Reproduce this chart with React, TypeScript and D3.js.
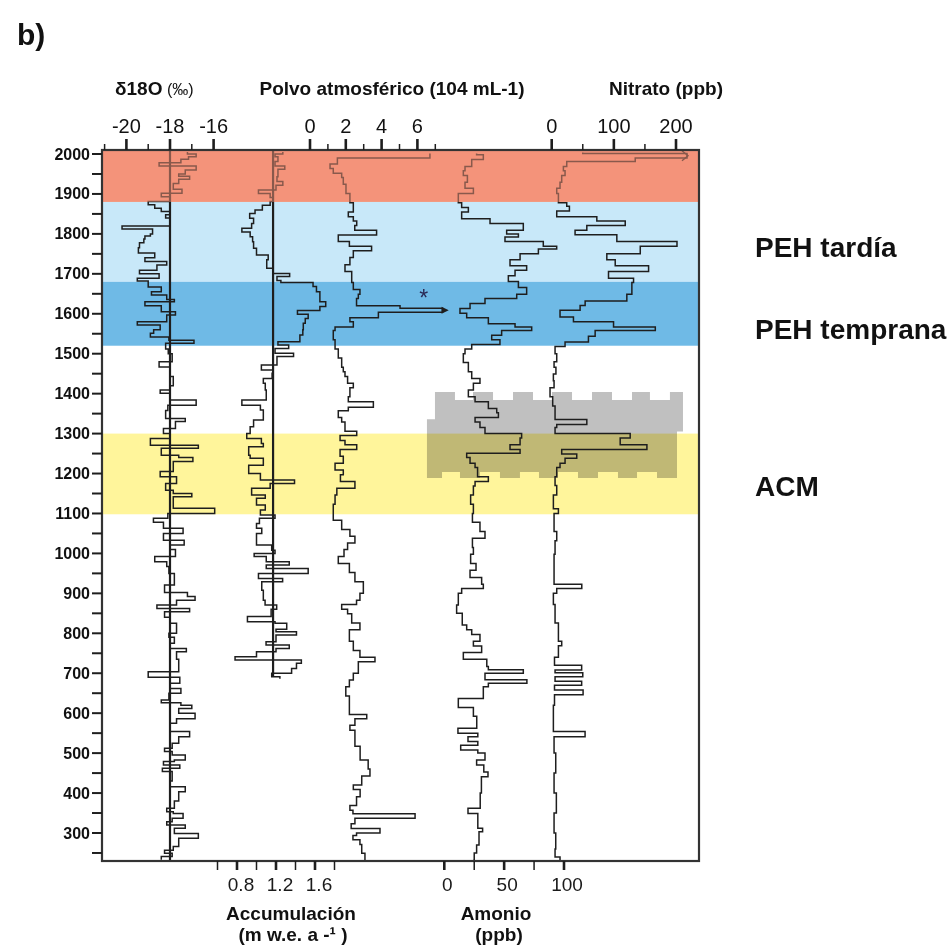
import React from 'react';
import * as d3 from 'd3';

// Each profile is a list of [year, value] steps: the value holds from that year
// down to the next listed year. The last entry closes the record.
type Step = [number, number];

const d18O: Step[] = [
  [2005, -17.2], [2000, -16.8], [1993, -17.15], [1987, -17.5], [1978, -18.5], [1970, -16.8],
  [1960, -17.3], [1950, -17.6], [1944, -17.1], [1937, -17.6], [1926, -17.85], [1912, -17.45],
  [1902, -18.4], [1893, -18.0], [1881, -19.0], [1873, -18.7], [1864, -18.4], [1856, -18.0],
  [1848, -18.2], [1840, -18.0], [1820, -20.2], [1812, -18.8], [1800, -18.9], [1795, -19.15],
  [1787, -19.2], [1778, -19.4], [1765, -19.45], [1752, -18.7], [1740, -19.15], [1731, -18.15],
  [1722, -18.6], [1709, -19.4], [1700, -18.5], [1689, -19.5], [1682, -19.0], [1667, -18.4],
  [1655, -18.85], [1647, -18.15], [1636, -17.8], [1630, -19.15], [1620, -18.4], [1605, -17.75],
  [1597, -18.15], [1580, -19.5], [1572, -18.45], [1560, -18.75], [1551, -18.9], [1542, -18.05],
  [1534, -16.9], [1526, -18.2], [1512, -18.08], [1500, -17.9], [1480, -18.5], [1467, -18.0],
  [1443, -17.85], [1420, -18.0], [1409, -18.45], [1401, -18.0], [1384, -16.8], [1371, -18.1],
  [1358, -18.2], [1338, -17.3], [1330, -17.75], [1313, -18.3], [1300, -18.0], [1288, -18.9],
  [1271, -16.7], [1263, -18.4], [1246, -17.6], [1240, -16.95], [1230, -17.85], [1205, -18.45],
  [1192, -17.7], [1175, -18.2], [1158, -17.85], [1150, -17.0], [1142, -17.85], [1113, -15.95],
  [1100, -18.1], [1088, -18.76], [1078, -18.3], [1063, -17.4], [1050, -18.3], [1033, -17.35],
  [1021, -18.0], [1010, -17.75], [992, -18.7], [979, -18.15], [967, -18.05], [950, -17.8],
  [921, -18.25], [902, -17.2], [892, -16.85], [883, -17.7], [871, -18.6], [862, -17.1],
  [854, -18.25], [840, -18.0], [825, -17.7], [800, -18.05], [790, -17.8], [775, -18.0],
  [762, -17.25], [754, -17.7], [735, -17.6], [704, -19.0], [690, -17.55], [675, -18.0],
  [662, -17.5], [650, -18.05], [633, -18.4], [626, -17.5], [620, -17.0], [612, -17.6],
  [600, -16.85], [586, -17.7], [575, -18.0], [554, -17.1], [541, -17.6], [525, -17.9],
  [512, -18.25], [504, -17.9], [495, -17.3], [483, -17.8], [479, -18.3], [470, -17.55],
  [462, -18.35], [454, -17.9], [430, -18.0], [416, -17.3], [403, -17.6], [380, -17.8],
  [362, -18.15], [353, -17.85], [349, -17.4], [337, -17.9], [328, -18.15], [320, -17.3],
  [312, -17.8], [299, -16.7], [287, -17.6], [266, -17.85], [257, -18.25], [249, -17.9],
  [241, -18.4], [233, -18.4],
];

const accumulation: Step[] = [
  [2005, 1.27], [2000, 1.19], [1993, 1.22], [1981, 1.19], [1970, 1.29], [1962, 1.22],
  [1943, 1.21], [1931, 1.27], [1922, 1.2], [1910, 1.02], [1901, 1.14], [1891, 1.17],
  [1881, 1.14], [1872, 1.06], [1860, 0.985], [1851, 0.93], [1839, 0.97], [1826, 0.95],
  [1814, 0.85], [1805, 0.935], [1793, 0.96], [1780, 0.97], [1764, 1.0], [1747, 1.12],
  [1735, 1.105], [1714, 1.17], [1701, 1.34], [1693, 1.21], [1683, 1.25], [1678, 1.58],
  [1668, 1.615], [1655, 1.65], [1630, 1.71], [1618, 1.65], [1608, 1.42], [1599, 1.53],
  [1588, 1.5], [1576, 1.48], [1560, 1.475], [1547, 1.445], [1530, 1.22], [1522, 1.33],
  [1513, 1.19], [1501, 1.38], [1493, 1.21], [1472, 1.05], [1459, 1.17], [1451, 1.16],
  [1438, 1.07], [1426, 1.09], [1409, 1.1], [1384, 0.85], [1371, 1.04], [1359, 1.07],
  [1334, 0.97], [1317, 0.935], [1300, 0.9], [1288, 1.05], [1275, 1.07], [1267, 0.92],
  [1246, 0.935], [1238, 1.07], [1221, 0.92], [1200, 1.04], [1184, 1.39], [1175, 1.14],
  [1163, 0.95], [1146, 1.09], [1138, 1.0], [1121, 1.09], [1109, 1.04], [1096, 1.19],
  [1088, 1.03], [1075, 1.0], [1063, 1.054], [1050, 1.0], [1033, 1.0], [1021, 1.156],
  [1008, 1.19], [1000, 0.976], [992, 1.1], [979, 1.336], [971, 1.1], [962, 1.53],
  [950, 1.02], [937, 1.268], [929, 1.054], [908, 1.07], [883, 1.088], [871, 1.207],
  [860, 1.15], [842, 0.907], [829, 1.19], [825, 1.31], [810, 1.2], [804, 1.41],
  [796, 1.2], [779, 1.098], [771, 1.336], [762, 1.2], [754, 1.0], [741, 0.78],
  [733, 1.46], [725, 1.41], [712, 1.36], [700, 1.156], [691, 1.24], [686, 1.24],
];

const dust: Step[] = [
  [2001, 6.7], [1990, 1.53], [1975, 1.12], [1964, 1.3], [1952, 1.77], [1941, 1.86],
  [1924, 2.01], [1901, 2.23], [1878, 2.42], [1855, 2.14], [1843, 2.42], [1832, 2.61],
  [1821, 2.5], [1809, 3.72], [1797, 1.58], [1781, 2.2], [1769, 3.44], [1758, 2.42],
  [1741, 2.23], [1723, 1.955], [1706, 2.33], [1678, 2.42], [1661, 2.79], [1649, 2.7],
  [1638, 2.6], [1620, 5.03], [1614, 7.4], [1604, 3.82], [1590, 2.23], [1580, 2.42],
  [1567, 1.4], [1558, 1.3], [1535, 1.4], [1512, 1.58], [1489, 1.77], [1466, 1.86],
  [1455, 1.955], [1443, 2.1], [1426, 2.42], [1415, 2.23], [1392, 2.14], [1380, 3.54],
  [1366, 2.14], [1357, 1.58], [1340, 1.77], [1329, 1.955], [1306, 2.61], [1295, 1.68],
  [1283, 1.955], [1272, 2.61], [1260, 1.68], [1243, 1.86], [1226, 1.4], [1209, 1.86],
  [1197, 1.7], [1180, 2.51], [1163, 1.5], [1146, 1.4], [1123, 1.3], [1106, 1.3],
  [1083, 1.77], [1060, 2.23], [1043, 2.51], [1026, 2.1], [1010, 1.9], [992, 1.58],
  [975, 2.2], [952, 2.51], [929, 2.98], [900, 2.79], [883, 2.6], [872, 1.77],
  [860, 2.1], [849, 2.33], [826, 2.79], [809, 2.2], [780, 2.42], [757, 2.79],
  [740, 3.63], [729, 2.7], [700, 2.42], [683, 2.2], [666, 2.0], [643, 2.2],
  [626, 2.2], [597, 3.17], [586, 2.51], [570, 2.23], [557, 2.51], [534, 2.51],
  [517, 2.8], [483, 3.25], [460, 3.35], [443, 2.89], [420, 2.42], [409, 2.8],
  [391, 2.6], [369, 2.23], [357, 2.4], [348, 5.87], [337, 2.51], [323, 2.3],
  [311, 3.91], [300, 2.6], [294, 2.4], [283, 2.79], [271, 2.89], [249, 3.07],
  [231, 3.07],
];

const ammonium: Step[] = [
  [2001, 27.0], [1998, 32.6], [1986, 22.9], [1969, 17.3], [1958, 15.9], [1946, 19.3], [1929, 17.3],
  [1914, 24.3], [1901, 11.7], [1878, 14.5], [1866, 20.1], [1855, 14.5], [1838, 38.2],
  [1826, 66.0], [1809, 52.1], [1800, 61.9], [1792, 50.7], [1781, 82.7], [1769, 93.9],
  [1762, 78.6], [1750, 63.3], [1735, 54.9], [1720, 68.8], [1709, 59.1], [1695, 53.5],
  [1681, 61.9], [1666, 68.8], [1649, 60.5], [1638, 34.0], [1626, 21.5], [1613, 13.1],
  [1601, 18.7], [1590, 36.8], [1575, 59.1], [1567, 73.0], [1558, 47.9], [1546, 39.6],
  [1535, 46.5], [1523, 22.9], [1512, 17.3], [1500, 15.9], [1478, 20.1], [1455, 22.9],
  [1438, 29.8], [1426, 24.3], [1409, 20.1], [1392, 25.7], [1380, 36.8], [1363, 43.8],
  [1352, 45.2], [1340, 25.7], [1329, 29.8], [1315, 34.0], [1300, 64.6], [1289, 63.3],
  [1272, 54.9], [1260, 63.3], [1251, 18.7], [1240, 21.5], [1226, 25.7], [1215, 27.8],
  [1192, 36.8], [1180, 25.7], [1169, 24.3], [1146, 22.0], [1123, 24.3], [1100, 23.5],
  [1078, 29.8], [1055, 34.0], [1038, 23.5], [1015, 24.3], [998, 22.0], [975, 26.5],
  [958, 21.5], [940, 31.2], [923, 32.6], [912, 14.5], [900, 11.7], [871, 10.3],
  [850, 15.0], [821, 18.7], [809, 22.9], [797, 29.8], [780, 24.3], [768, 31.2],
  [752, 15.9], [735, 35.5], [717, 36.8], [709, 66.0], [700, 34.0], [684, 69.0],
  [675, 36.8], [666, 32.6], [637, 11.7], [614, 24.3], [592, 27.1], [572, 27.1],
  [562, 11.4], [550, 28.0], [541, 19.8], [529, 28.0], [520, 13.7], [508, 28.0],
  [500, 34.0], [483, 27.0], [470, 33.0], [453, 36.5], [441, 31.0], [400, 30.0],
  [362, 19.8], [349, 28.0], [312, 32.0], [303, 29.0], [270, 27.0], [250, 25.0],
  [231, 24.0],
];

const nitrate: Step[] = [
  [2004, 50.0], [2001, 217.7], [1990, 134.4], [1981, 24.2], [1969, 18.8], [1958, 21.5], [1946, 16.1],
  [1929, 13.4], [1914, 8.1], [1901, 10.8], [1878, 24.2], [1869, 28.5], [1857, 8.1],
  [1843, 72.6], [1832, 118.3], [1821, 56.5], [1809, 37.6], [1798, 104.8], [1781, 201.6],
  [1769, 142.5], [1750, 88.7], [1735, 102.2], [1720, 155.9], [1706, 91.4], [1689, 131.7],
  [1678, 129.0], [1649, 120.9], [1632, 53.8], [1621, 45.7], [1609, 13.4], [1592, 35.0],
  [1580, 99.5], [1567, 166.7], [1558, 69.9], [1544, 59.1], [1529, 21.5], [1518, 5.4],
  [1500, 8.1], [1480, 3.8], [1466, 6.8], [1449, 2.7], [1432, 3.8], [1415, -2.7],
  [1392, 1.6], [1369, 5.4], [1335, 56.5], [1323, 8.1], [1315, 5.4], [1300, 126.3],
  [1289, 110.2], [1272, 153.2], [1260, 16.1], [1249, 40.3], [1238, 21.5], [1226, 13.4],
  [1215, 8.1], [1192, 5.4], [1170, 8.1], [1146, 2.7], [1112, 10.8], [1100, 3.8],
  [1055, 8.1], [1032, 5.4], [998, 3.8], [923, 48.4], [912, 8.1], [900, 2.7],
  [872, 5.4], [826, 10.8], [780, 16.1], [769, 10.8], [740, 4.5], [720, 48.2],
  [708, 5.4], [701, 50.0], [691, 5.4], [680, 48.2], [670, 4.5], [658, 50.5],
  [646, 4.5], [620, 2.7], [554, 53.7], [541, 3.8], [500, 6.5], [450, 3.8],
  [400, 7.5], [350, 3.8], [300, 6.5], [260, 5.4], [240, 13.4], [231, 13.4],
];

// Climate periods shaded across the panel (years)
const periods = [
  { name: 'recent', from: 2010, to: 1880, color: '#F4937A' },
  { name: 'PEH tardía', from: 1880, to: 1680, color: '#C8E8F9' },
  { name: 'PEH temprana', from: 1680, to: 1520, color: '#6FBAE6' },
  { name: 'ACM', from: 1300, to: 1098, color: '#FFF59B' },
];

const periodLabels = [
  { text: 'PEH tardía', year: 1768 },
  { text: 'PEH temprana', year: 1563 },
  { text: 'ACM', year: 1168 },
];

// Dated window (ammonium ppb span, years) with its notched edges
const windowTopTeeth: [number, number][] = [
  [-7.8, 8.9], [24.0, 40.7], [57.4, 74.1], [90.0, 106.7], [123.4, 140.1], [156.8, 171.8], [188.5, 199.4],
];
const windowBottomTeeth: [number, number][] = [
  [-14.5, -1.9], [13.1, 29.8], [46.5, 63.2], [79.1, 95.0], [111.7, 128.4], [145.1, 161.0], [177.7, 194.4],
];
const windowYears = { top: 1404, topGap: 1384, leftStep: 1336, rightStep: 1305, bottomGap: 1204, bottom: 1189 };

const yearLabels = [2000, 1900, 1800, 1700, 1600, 1500, 1400, 1300, 1200, 1100, 1000, 900, 800, 700, 600, 500, 400, 300];
const yearTicks = d3.range(250, 2001, 50);
const d18OTicks = [-21, -20, -19, -18, -17, -16];
const d18OLabels = [-20, -18, -16];
const dustTicks = [0, 1, 2, 3, 4, 5, 6, 7];
const dustLabels = [0, 2, 4, 6];
const nitrateTicks = [0, 50, 100, 150, 200];
const nitrateLabels = [0, 100, 200];
const accTicks = [0.6, 0.8, 1.0, 1.2, 1.4, 1.6, 1.8];
const accLabels = [0.8, 1.2, 1.6];
const ammTicks = [0, 25, 50, 75, 100];
const ammLabels = [0, 50, 100];

const d18OMean = -18;
const accMean = 1.17;

const FONT = '"Liberation Sans", Arial, Helvetica, sans-serif';
const INK = '#1e1e1e';

const frame = { left: 102, right: 699, top: 150, bottom: 861 };

const y = d3.scaleLinear().domain([2000, 300]).range([154, 833]);
const xD18O = d3.scaleLinear().domain([-18, -16]).range([170, 213.6]);
const xAcc = d3.scaleLinear().domain([0.8, 1.6]).range([237, 315]);
const xDust = d3.scaleLinear().domain([0, 6]).range([310, 417.4]);
const xAmm = d3.scaleLinear().domain([0, 100]).range([444.3, 564]);
const xNit = d3.scaleLinear().domain([0, 200]).range([551.7, 676]);

function stepPath(data: Step[], x: d3.ScaleLinear<number, number>) {
  return d3
    .line<Step>()
    .x((d) => x(d[1]))
    .y((d) => y(d[0]))
    .curve(d3.curveStepBefore)(data) as string;
}

function windowPath() {
  const xs = xAmm;
  const pts: [number, number][] = [];
  windowTopTeeth.forEach(([a, b], i) => {
    if (i > 0) pts.push([a, windowYears.topGap]);
    pts.push([a, windowYears.top]);
    pts.push([b, windowYears.top]);
    if (i < windowTopTeeth.length - 1) pts.push([b, windowYears.topGap]);
  });
  const last = windowTopTeeth[windowTopTeeth.length - 1][1];
  const lastBottom = windowBottomTeeth[windowBottomTeeth.length - 1][1];
  pts.push([last, windowYears.rightStep]);
  pts.push([lastBottom, windowYears.rightStep]);
  [...windowBottomTeeth].reverse().forEach(([a, b], i, arr) => {
    if (i > 0) pts.push([b, windowYears.bottomGap]);
    pts.push([b, windowYears.bottom]);
    pts.push([a, windowYears.bottom]);
    if (i < arr.length - 1) pts.push([a, windowYears.bottomGap]);
  });
  pts.push([windowBottomTeeth[0][0], windowYears.leftStep]);
  pts.push([windowTopTeeth[0][0], windowYears.leftStep]);
  return 'M' + pts.map(([v, yr]) => `${xs(v)},${y(yr)}`).join('L') + 'Z';
}

const series: { key: string; data: Step[]; x: d3.ScaleLinear<number, number> }[] = [
  { key: 'd18O', data: d18O, x: xD18O },
  { key: 'acc', data: accumulation, x: xAcc },
  { key: 'dust', data: dust, x: xDust },
  { key: 'amm', data: ammonium, x: xAmm },
  { key: 'nit', data: nitrate, x: xNit },
];

function TopAxis({ scale, ticks, labels }: { scale: d3.ScaleLinear<number, number>; ticks: number[]; labels: number[] }) {
  return (
    <g>
      {ticks.map((t) => {
        const major = labels.includes(t);
        return (
          <line key={t} x1={scale(t)} x2={scale(t)} y1={frame.top} y2={frame.top - (major ? 11 : 6)} stroke={INK} strokeWidth={major ? 2.6 : 1.5} />
        );
      })}
      {labels.map((t) => (
        <text key={'l' + t} x={scale(t)} y={133} textAnchor="middle" fontSize={20} fontFamily={FONT} fill="#111">
          {String(t)}
        </text>
      ))}
    </g>
  );
}

function BottomAxis({ scale, ticks, labels, fmt, shift }: { scale: d3.ScaleLinear<number, number>; ticks: number[]; labels: number[]; fmt: (v: number) => string; shift: number }) {
  return (
    <g>
      {ticks.map((t) => {
        const major = labels.some((l) => Math.abs(l - t) < 1e-6);
        return (
          <line key={t} x1={scale(t)} x2={scale(t)} y1={frame.bottom} y2={frame.bottom + 9} stroke={INK} strokeWidth={major ? 2.6 : 1.5} />
        );
      })}
      {labels.map((t) => (
        <text key={'l' + t} x={scale(t) + shift} y={891} textAnchor="middle" fontSize={19} fontFamily={FONT} fill="#1a1a1a">
          {fmt(t)}
        </text>
      ))}
    </g>
  );
}

export default function App() {
  const salmon = periods[0];
  const arrowYear = 1609;
  const arrowTip = xDust(7.75);
  const arrowBase = xDust(7.35);
  const nitTipX = xNit(nitrate[1][1]);
  const nitTipY = y((nitrate[1][0] + nitrate[2][0]) / 2);
  return (
    <svg width={950} height={950} viewBox="0 0 950 950" style={{ display: 'block', position: 'absolute', left: 0, top: 0, background: '#fff' }}>
      <rect x={0} y={0} width={950} height={950} fill="#fff" />

      {/* period bands */}
      {periods.map((p) => (
        <rect key={p.name} x={frame.left} width={frame.right - frame.left} y={Math.max(frame.top, y(p.from))} height={y(p.to) - Math.max(frame.top, y(p.from))} fill={p.color} />
      ))}

      {/* dated window, blended over the bands */}
      <path d={windowPath()} fill="#C0C0C0" style={{ mixBlendMode: 'multiply' }} />

      {/* long-term means */}
      <line x1={xD18O(d18OMean)} x2={xD18O(d18OMean)} y1={frame.top} y2={frame.bottom} stroke={INK} strokeWidth={2.2} />
      <line x1={xAcc(accMean)} x2={xAcc(accMean)} y1={frame.top} y2={y(691)} stroke={INK} strokeWidth={2.2} />

      {/* step profiles */}
      {series.map((s) => (
        <path key={s.key} d={stepPath(s.data, s.x)} fill="none" stroke={INK} strokeWidth={1.5} strokeLinejoin="miter" />
      ))}

      {/* off-scale peaks */}
      <polygon points={`${arrowBase},${y(arrowYear) - 3.5} ${arrowTip},${y(arrowYear)} ${arrowBase},${y(arrowYear) + 3.5}`} fill={INK} />
      <polyline points={`${nitTipX - 5},${nitTipY - 5} ${nitTipX + 1},${nitTipY} ${nitTipX - 5},${nitTipY + 5}`} fill="none" stroke={INK} strokeWidth={1.4} />
      <text x={xDust(6.35)} y={y(1609) - 4} textAnchor="middle" fontSize={23} fontFamily={FONT} fill="#2a2a55">*</text>

      {/* recent period tint laid over the profiles */}
      <rect x={frame.left} width={frame.right - frame.left} y={frame.top} height={y(salmon.to) - frame.top} fill={salmon.color} opacity={0.5} />

      {/* frame */}
      <rect x={frame.left} y={frame.top} width={frame.right - frame.left} height={frame.bottom - frame.top} fill="none" stroke="#333" strokeWidth={2.2} />

      {/* left year axis */}
      {yearTicks.map((t) => (
        <line key={t} x1={frame.left - 10} x2={frame.left} y1={y(t)} y2={y(t)} stroke={INK} strokeWidth={2} />
      ))}
      {yearLabels.map((t) => (
        <text key={'y' + t} x={90} y={y(t) + 5.5} textAnchor="end" fontSize={16} fontWeight="bold" fontFamily={FONT} fill="#111">
          {t}
        </text>
      ))}

      {/* top axes */}
      <TopAxis scale={xD18O} ticks={d18OTicks} labels={d18OLabels} />
      <TopAxis scale={xDust} ticks={dustTicks} labels={dustLabels} />
      <TopAxis scale={xNit} ticks={nitrateTicks} labels={nitrateLabels} />

      {/* bottom axes */}
      <BottomAxis scale={xAcc} ticks={accTicks} labels={accLabels} fmt={(v) => v.toFixed(1)} shift={4} />
      <BottomAxis scale={xAmm} ticks={ammTicks} labels={ammLabels} fmt={(v) => String(v)} shift={3} />

      {/* top titles */}
      <text x={115} y={95} fontSize={19} fontFamily={FONT} fill="#111">
        <tspan fontWeight="bold">δ18O</tspan>
        <tspan fontSize={16}> (‰)</tspan>
      </text>
      <text x={392} y={95} textAnchor="middle" fontSize={19} fontWeight="bold" fontFamily={FONT} fill="#111">
        Polvo atmosférico (104 mL-1)
      </text>
      <text x={666} y={95} textAnchor="middle" fontSize={19} fontWeight="bold" fontFamily={FONT} fill="#111">
        Nitrato (ppb)
      </text>

      {/* bottom titles */}
      <text x={291} y={920} textAnchor="middle" fontSize={19} fontWeight="bold" fontFamily={FONT} fill="#111">
        Accumulación
      </text>
      <text x={293} y={941} textAnchor="middle" fontSize={19} fontWeight="bold" fontFamily={FONT} fill="#111">
        (m w.e. a -¹ )
      </text>
      <text x={496} y={920} textAnchor="middle" fontSize={19} fontWeight="bold" fontFamily={FONT} fill="#111">
        Amonio
      </text>
      <text x={499} y={941} textAnchor="middle" fontSize={19} fontWeight="bold" fontFamily={FONT} fill="#111">
        (ppb)
      </text>

      {/* period names */}
      {periodLabels.map((p) => (
        <text key={p.text} x={755} y={y(p.year) + 10} fontSize={28} fontWeight="bold" fontFamily={FONT} fill="#111">
          {p.text}
        </text>
      ))}

      {/* panel letter */}
      <text x={17} y={45} fontSize={30} fontWeight="bold" fontFamily={FONT} fill="#111">
        b)
      </text>
    </svg>
  );
}
